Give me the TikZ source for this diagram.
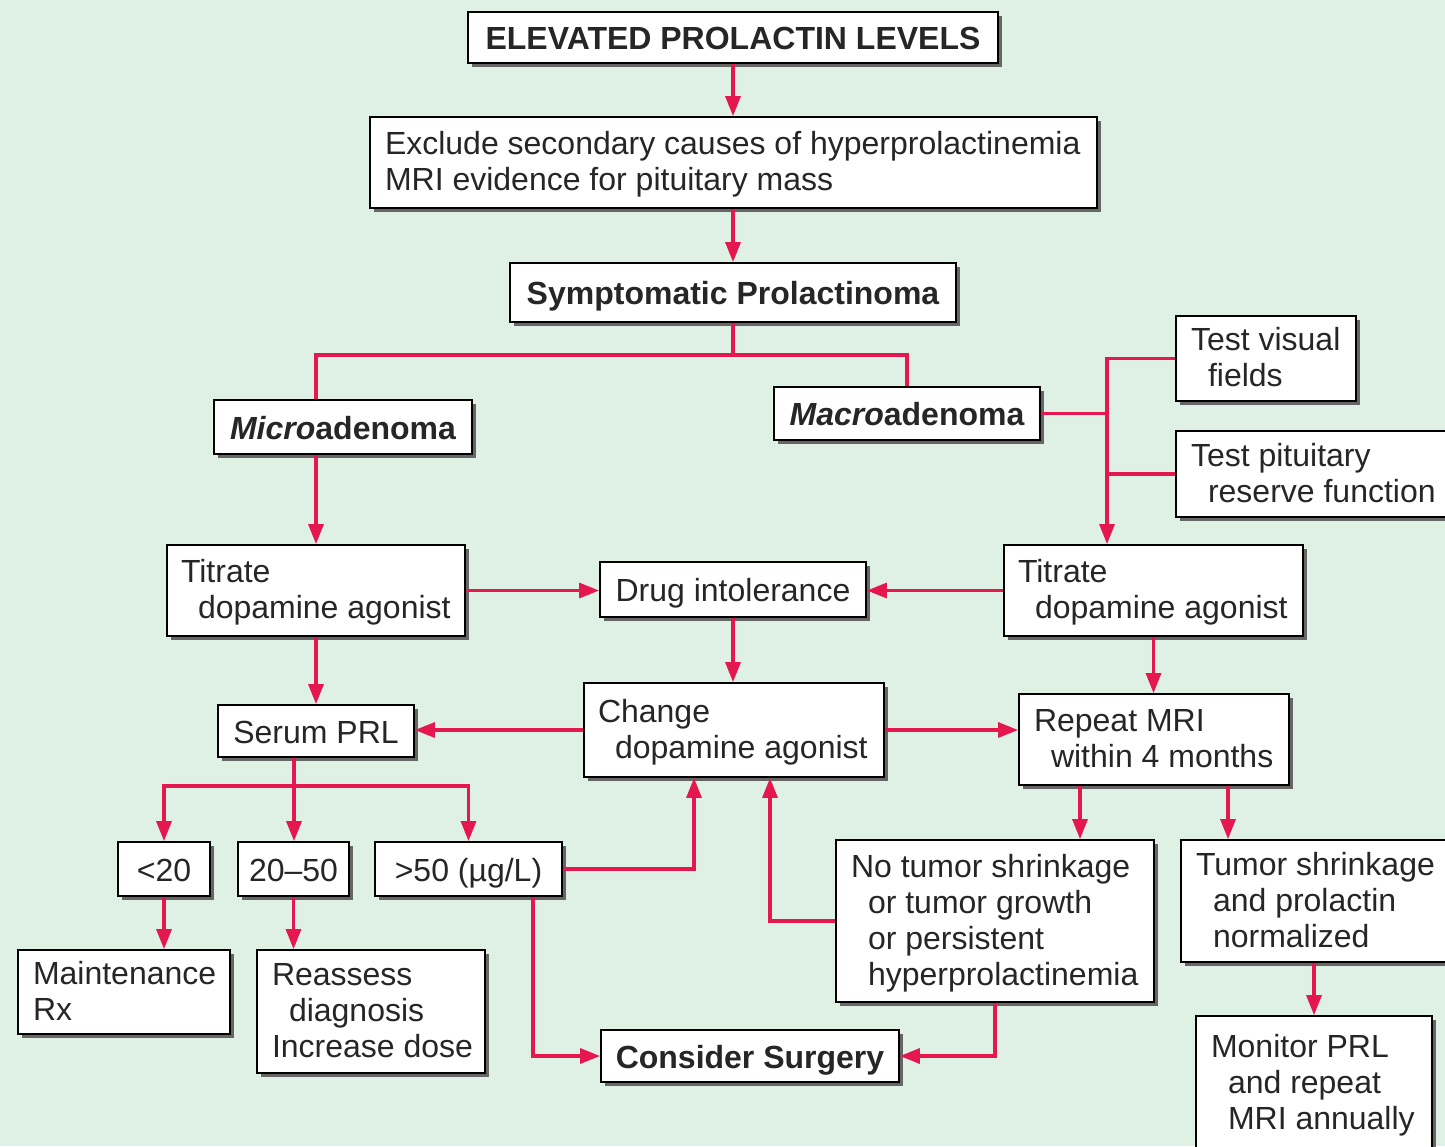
\documentclass[tikz,border=0pt]{standalone}
\usepackage{fontspec}
\setmainfont{Liberation Sans}
\usetikzlibrary{arrows.meta,shadows}
\definecolor{bgc}{HTML}{DFF0E4}
\definecolor{lnc}{HTML}{E5174F}
\newcommand{\bxtext}[3]{\makebox[#1][l]{\hspace*{#2}\raisebox{-3pt}[\height][\depth]{\begin{tabular}{@{}l@{}}#3\end{tabular}}}}
\newcommand{\indt}{\hspace*{17pt}}
\tikzset{
  box/.style={draw=black, line width=1.8pt, fill=white, rectangle, inner sep=0pt,
    text=black!85, font=\fontsize{32}{36}\selectfont,
    drop shadow={shadow xshift=3.5pt, shadow yshift=-3.5pt, fill=black!60, opacity=1}},
  oneline/.style={text height=24pt, text depth=0pt},
  ln/.style={draw=lnc, line width=3.2pt},
  arr/.style={ln, -{Triangle[length=20pt,width=15pt]}}
}
\begin{document}
\begin{tikzpicture}[x=1pt,y=-1pt]
\useasboundingbox (0,0) rectangle (1445,1146);
\fill[bgc] (0,0) rectangle (1445,1146);
\clip (0,0) rectangle (1445,1146);

% boxes
\node[box, oneline, minimum width=530pt, minimum height=51pt] (elev) at (733,37.5) {\bfseries ELEVATED PROLACTIN LEVELS};
\node[box, minimum width=727pt, minimum height=91pt] (excl) at (733.5,162.5) {\bxtext{727pt}{15pt}{Exclude secondary causes of hyperprolactinemia\\MRI evidence for pituitary mass}};
\node[box, oneline, minimum width=446pt, minimum height=59pt] (symp) at (733,292.5) {\bfseries Symptomatic Prolactinoma};
\node[box, oneline, minimum width=258pt, minimum height=54pt] (micro) at (343,427) {\bfseries\itshape Micro\upshape adenoma};
\node[box, oneline, minimum width=266pt, minimum height=53pt] (macro) at (907,413.5) {\bfseries\itshape Macro\upshape adenoma};
\node[box, minimum width=180pt, minimum height=85pt] (tvf) at (1266,358.5) {\bxtext{180pt}{15pt}{Test visual\\\indt fields}};
\node[box, minimum width=289pt, minimum height=86pt] (tpr) at (1320.5,474) {\bxtext{289pt}{15pt}{Test pituitary\\\indt reserve function}};
\node[box, minimum width=298pt, minimum height=91pt] (titL) at (316,590.5) {\bxtext{298pt}{14pt}{Titrate\\\indt dopamine agonist}};
\node[box, oneline, minimum width=266pt, minimum height=55pt] (drug) at (733,589.5) {Drug intolerance};
\node[box, minimum width=299pt, minimum height=91pt] (titR) at (1153.5,590.5) {\bxtext{299pt}{14pt}{Titrate\\\indt dopamine agonist}};
\node[box, oneline, minimum width=196pt, minimum height=52pt] (serum) at (316,731) {Serum PRL};
\node[box, minimum width=300pt, minimum height=94pt] (change) at (734,730) {\bxtext{300pt}{14pt}{Change\\\indt dopamine agonist}};
\node[box, minimum width=270pt, minimum height=91pt] (repeat) at (1154,739.5) {\bxtext{270pt}{15pt}{Repeat MRI\\\indt within 4 months}};
\node[box, oneline, minimum width=92pt, minimum height=54pt] (lt20) at (164,869) {<20};
\node[box, oneline, minimum width=111pt, minimum height=54pt] (mid) at (293.5,869) {20–50};
\node[box, oneline, minimum width=187pt, minimum height=54pt] (gt50) at (468.5,869) {>50 (µg/L)};
\node[box, minimum width=318pt, minimum height=162pt] (notum) at (995,921) {\bxtext{318pt}{15pt}{No tumor shrinkage\\\indt or tumor growth\\\indt or persistent\\\indt hyperprolactinemia}};
\node[box, minimum width=279pt, minimum height=122pt] (shrink) at (1320.5,901) {\bxtext{279pt}{15pt}{Tumor shrinkage\\\indt and prolactin\\\indt normalized}};
\node[box, minimum width=212pt, minimum height=84pt] (maint) at (124,992) {\bxtext{212pt}{15pt}{Maintenance\\Rx}};
\node[box, minimum width=228pt, minimum height=123pt] (reass) at (371,1011.5) {\bxtext{228pt}{15pt}{Reassess\\\indt diagnosis\\Increase dose}};
\node[box, oneline, minimum width=298pt, minimum height=52pt] (surg) at (750,1056) {\bfseries Consider Surgery};
\node[box, minimum width=236pt, minimum height=134pt] (monitor) at (1314,1083) {\bxtext{236pt}{15pt}{Monitor PRL\\\indt and repeat\\\indt MRI annually}};

% helper coordinates
\coordinate (j1) at (733,355);
\coordinate (vx) at (1107,0);
\coordinate (j3) at (294,786);
\coordinate (cx1) at (694,0);
\coordinate (cx2) at (533,0);
\coordinate (cx3) at (770,0);
\coordinate (cx4) at (1080,0);
\coordinate (cx5) at (1228,0);

% connectors
\draw[arr] (elev.south) -- (elev.south |- excl.north);
\draw[arr] (symp.north |- excl.south) -- (symp.north);
\draw[ln] (symp.south) -- (j1);
\draw[ln] (j1) -| (micro.north -| titL.north);
\draw[ln] (j1) -| (macro.north);
\draw[ln] (macro.east) -- (macro.east -| vx);
\draw[arr] (tvf.west) -| (titR.north -| vx);
\draw[ln] (tpr.west) -- (tpr.west -| vx);
\draw[arr] (micro.south -| titL.north) -- (titL.north);
\draw[arr] (titL.east) -- (titL.east -| drug.west);
\draw[arr] (titR.west) -- (titR.west -| drug.east);
\draw[arr] (drug.south) -- (drug.south |- change.north);
\draw[arr] (titL.south) -- (serum.north);
\draw[arr] (change.west) -- (change.west -| serum.east);
\draw[arr] (change.east) -- (change.east -| repeat.west);
\draw[arr] (titR.south) -- (titR.south |- repeat.north);
\draw[ln] (serum.south -| j3) -- (j3);
\draw[arr] (j3) -| (lt20.north);
\draw[arr] (j3) -- (j3 |- mid.north);
\draw[arr] (j3) -| (gt50.north);
\draw[arr] (lt20.south) -- (lt20.south |- maint.north);
\draw[arr] (mid.south) -- (mid.south |- reass.north);
\draw[arr] (gt50.east) -| (change.south -| cx1);
\draw[arr] (gt50.south -| cx2) |- (surg.west);
\draw[arr] (notum.west) -| (change.south -| cx3);
\draw[arr] (notum.south) |- (surg.east);
\draw[arr] (repeat.south -| cx4) -- (notum.north -| cx4);
\draw[arr] (repeat.south -| cx5) -- (shrink.north -| cx5);
\draw[arr] (shrink.south -| monitor.north) -- (monitor.north);
\end{tikzpicture}
\end{document}
